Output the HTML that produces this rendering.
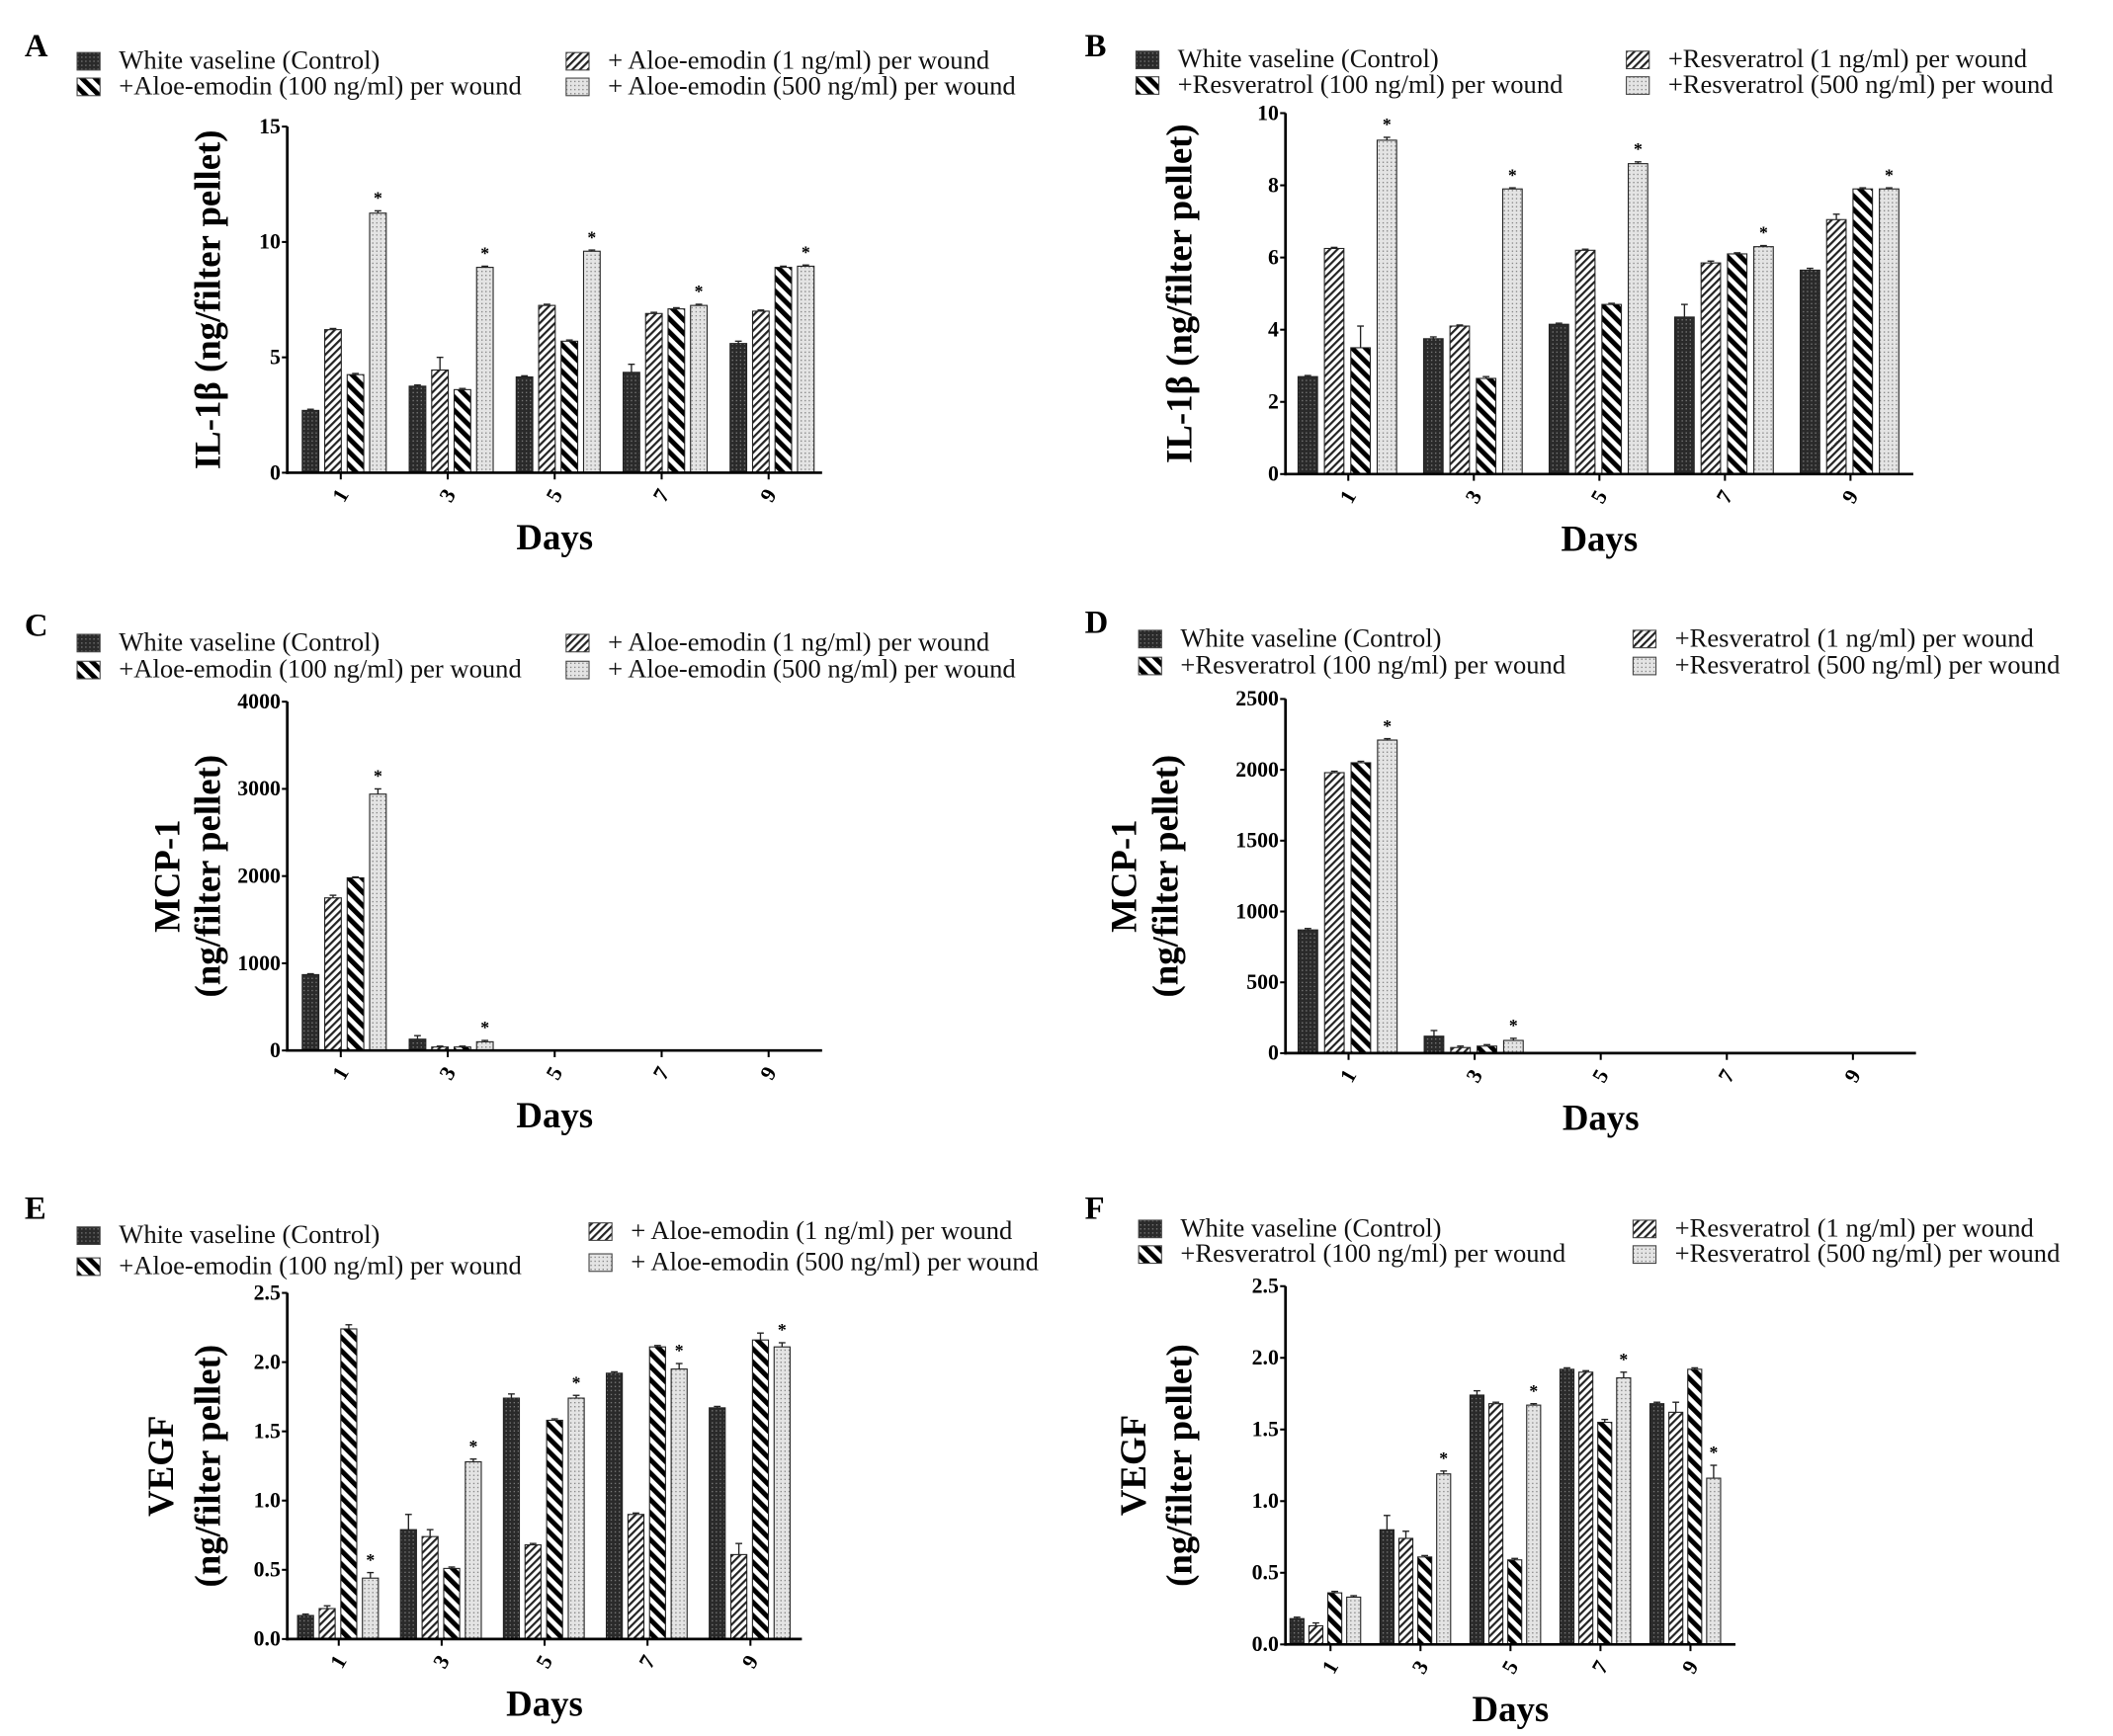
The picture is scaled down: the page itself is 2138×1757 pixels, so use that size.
<!DOCTYPE html>
<html><head><meta charset="utf-8"><style>
html,body{margin:0;padding:0;background:#fff;}
svg{display:block;font-family:"Liberation Serif",serif;}
</style></head><body>
<svg id="fig" width="2138" height="1757" viewBox="0 0 1568 1289" xmlns="http://www.w3.org/2000/svg">
<defs>
<pattern id="pCtrl" width="3" height="3" patternUnits="userSpaceOnUse"><rect width="3" height="3" fill="#2a2a2a"/><rect width="1" height="1" fill="#777"/></pattern>
<pattern id="p1" width="4" height="4" patternUnits="userSpaceOnUse" patternTransform="rotate(45)"><rect width="4" height="4" fill="#fff"/><rect width="1.6" height="4" fill="#222"/></pattern>
<pattern id="p100" width="7" height="7" patternUnits="userSpaceOnUse" patternTransform="rotate(-45)"><rect width="7" height="7" fill="#fff"/><rect width="3.6" height="7" fill="#000"/></pattern>
<pattern id="p500" width="3" height="3" patternUnits="userSpaceOnUse"><rect width="3" height="3" fill="#e4e4e4"/><rect width="1" height="1" fill="#888"/></pattern>
</defs>
</svg>
<script>
const days = ["1","3","5","7","9"];
const seriesNamesAE = ["White vaseline (Control)","+ Aloe-emodin (1 ng/ml) per wound","+Aloe-emodin (100 ng/ml) per wound","+ Aloe-emodin (500 ng/ml) per wound"];
const seriesNamesR = ["White vaseline (Control)","+Resveratrol (1 ng/ml) per wound","+Resveratrol (100 ng/ml) per wound","+Resveratrol (500 ng/ml) per wound"];
// Panel A: IL-1b aloe-emodin
const aCtrl = [2.7,3.75,4.15,4.35,5.6];
const a1 = [6.2,4.45,7.25,6.9,7.0];
const a100 = [4.25,3.6,5.7,7.1,8.9];
const a500 = [11.25,8.9,9.6,7.25,8.95];
const aErr = [[0.05,0.05,0.05,0.35,0.1],[0.05,0.55,0.05,0.05,0.05],[0.05,0.05,0.05,0.05,0.05],[0.1,0.05,0.05,0.05,0.05]];
const aTicks = [0,5,10,15];
const aStars = [[3,0],[3,1],[3,2],[3,3],[3,4]];
// Panel B: IL-1b resveratrol
const bCtrl = [2.7,3.75,4.15,4.35,5.65];
const b1 = [6.25,4.1,6.2,5.85,7.05];
const b100 = [3.5,2.65,4.7,6.1,7.9];
const b500 = [9.25,7.9,8.6,6.3,7.9];
const bErr = [[0.03,0.05,0.03,0.35,0.05],[0.03,0.03,0.03,0.05,0.15],[0.6,0.05,0.03,0.03,0.03],[0.08,0.03,0.05,0.03,0.03]];
const bTicks = [0,2,4,6,8,10];
const bStars = [[3,0],[3,1],[3,2],[3,3],[3,4]];
// Panel C: MCP-1 aloe-emodin
const cCtrl = [870,130,5,5,5];
const c1 = [1750,40,5,5,5];
const c100 = [1980,40,5,5,5];
const c500 = [2940,100,5,5,5];
const cErr = [[10,40,0,0,0],[30,10,0,0,0],[10,10,0,0,0],[60,15,0,0,0]];
const cTicks = [0,1000,2000,3000,4000];
const cStars = [[3,0],[3,1]];
// Panel D: MCP-1 resveratrol
const dCtrl = [870,120,3,3,3];
const d1 = [1980,40,3,3,3];
const d100 = [2050,50,3,3,3];
const d500 = [2210,90,3,3,3];
const dErr = [[10,40,0,0,0],[10,10,0,0,0],[10,10,0,0,0],[10,15,0,0,0]];
const dTicks = [0,500,1000,1500,2000,2500];
const dStars = [[3,0],[3,1]];
// Panel E: VEGF aloe-emodin
const eCtrl = [0.17,0.79,1.74,1.92,1.67];
const e1 = [0.22,0.74,0.68,0.9,0.61];
const e100 = [2.24,0.51,1.58,2.11,2.16];
const e500 = [0.44,1.28,1.74,1.95,2.11];
const eErr = [[0.01,0.11,0.03,0.01,0.01],[0.02,0.05,0.01,0.01,0.08],[0.03,0.01,0.01,0.01,0.05],[0.04,0.02,0.02,0.04,0.03]];
const eTicks = [0,0.5,1,1.5,2,2.5];
const eStars = [[3,0],[3,1],[3,2],[3,3],[3,4]];
// Panel F: VEGF resveratrol
const fCtrl = [0.18,0.8,1.74,1.92,1.68];
const f1 = [0.13,0.74,1.68,1.90,1.62];
const f100 = [0.36,0.61,0.59,1.55,1.92];
const f500 = [0.33,1.19,1.67,1.86,1.16];
const fErr = [[0.01,0.1,0.03,0.01,0.01],[0.02,0.05,0.01,0.01,0.07],[0.01,0.01,0.01,0.02,0.01],[0.01,0.02,0.01,0.04,0.09]];
const fTicks = [0,0.5,1,1.5,2,2.5];
const fStars = [[3,1],[3,2],[3,3],[3,4]];

const NS="http://www.w3.org/2000/svg";
const svg=document.getElementById('fig');
const fills=["url(#pCtrl)","url(#p1)","url(#p100)","url(#p500)"];
function mk(tag,attrs,parent,text){const e=document.createElementNS(NS,tag);for(const k in attrs)e.setAttribute(k,attrs[k]);if(text!==undefined)e.textContent=text;(parent||svg).appendChild(e);return e;}

function panel(cfg){
  const g=mk('g',{});
  
  
  const L=mk('text',{x:cfg.letter[0],y:cfg.letter[1],'font-size':24,'font-weight':'bold'},g,cfg.id.toUpperCase());
  
  
  const lg=mk('g',{},g);
  
  
  const order=[0,2,1,3];
  order.forEach((si,k)=>{
    const col=k<2?0:1,row=k%2;
    const sx=cfg.leg.x[col],sy=cfg.leg.y[col][row];
    const en=mk('g',{},lg);
    
    
    mk('rect',{x:sx,y:sy-12,width:17,height:13,fill:fills[si],stroke:'#444','stroke-width':0.8},en);
    mk('text',{x:sx+31,y:sy,'font-size':19.5,fill:'#111'},en,cfg.names[si]);
  });
  const x0=cfg.ax.x0,x1=cfg.ax.x1,yTop=cfg.ax.yTop,yZero=cfg.ax.yZero;
  const max=cfg.ticks[cfg.ticks.length-1];
  const yS=v=>yZero-(v/max)*(yZero-yTop);
  const W=(x1-x0)/days.length;
  const xBar=(d,s)=>x0+d*W+cfg.off*W+s*0.21*W;
  const bw=0.155*W;
  cfg.series.forEach((arr,si)=>{
    arr.forEach((v,d)=>{
      const r=mk('rect',{x:xBar(d,si),y:yS(v),width:bw,height:yZero-yS(v),fill:fills[si],stroke:'#222','stroke-width':0.8},g);
      
      
      const e=cfg.err[si][d];
      if(e>0){const cx=xBar(d,si)+bw/2;
        mk('line',{x1:cx,x2:cx,y1:yS(v),y2:yS(v+e),stroke:'#222','stroke-width':1},g);
        mk('line',{x1:cx-2.5,x2:cx+2.5,y1:yS(v+e),y2:yS(v+e),stroke:'#222','stroke-width':1},g);}
    });
  });
  cfg.stars.forEach(([si,d])=>{
    const v=cfg.series[si][d]+cfg.err[si][d];
    const s=mk('text',{x:xBar(d,si)+bw/2,y:yS(v)-5,'font-size':13,'text-anchor':'middle','font-weight':'bold'},g,'*');
    
    
  });
  const ya=mk('line',{x1:x0,x2:x0,y1:yTop,y2:yZero+1,stroke:'#000','stroke-width':2},g);
  
  
  const xa=mk('line',{x1:x0-1,x2:x1,y1:yZero,y2:yZero,stroke:'#000','stroke-width':2},g);
  
  
  cfg.ticks.forEach((t,i)=>{
    mk('line',{x1:x0-4,x2:x0,y1:yS(t),y2:yS(t),stroke:'#000','stroke-width':1.5},g);
    const tl=mk('text',{x:x0-5,y:yS(t)+5,'font-size':16,'font-weight':'bold','text-anchor':'end'},g,cfg.tickLabels[i]);
    
    
  });
  days.forEach((dl,d)=>{
    const cx=x0+d*W+W/2;
    mk('line',{x1:cx,x2:cx,y1:yZero,y2:yZero+5,stroke:'#000','stroke-width':1.5},g);
    const tl=mk('text',{x:cx,y:yZero+22,'font-size':16,'font-weight':'bold','text-anchor':'middle',transform:`rotate(-60 ${cx} ${yZero+17})`},g,dl);
    
    
  });
  const xt=mk('text',{x:(x0+x1)/2,y:yZero+57,'font-size':27,'font-weight':'bold','text-anchor':'middle'},g,'Days');
  
  
  const cy=(yTop+yZero)/2;
  cfg.ylab.forEach((t,i)=>{
    const lx=cfg.ylabX[i];
    const yt=mk('text',{x:lx,y:cy,'font-size':27,'font-weight':'bold','text-anchor':'middle',transform:`rotate(-90 ${lx} ${cy})`},g,t);
    
    
  });
}
const fmt1=v=>v.toFixed(1);
panel({id:'a',letter:[18,42],names:seriesNamesAE,leg:{x:[57,420],y:[[51,70],[51,70]]},ax:{x0:213,x1:610,yTop:94,yZero:351},off:0.14,
 series:[aCtrl,a1,a100,a500],err:aErr,ticks:aTicks,tickLabels:aTicks.map(String),stars:aStars,ylab:['IL-1β (ng/filter pellet)'],ylabX:[163]});
panel({id:'b',letter:[805,42],names:seriesNamesR,leg:{x:[843,1207],y:[[50,69],[50,69]]},ax:{x0:954,x1:1420,yTop:84,yZero:352},off:0.1,
 series:[bCtrl,b1,b100,b500],err:bErr,ticks:bTicks,tickLabels:bTicks.map(String),stars:bStars,ylab:['IL-1β (ng/filter pellet)'],ylabX:[884]});
panel({id:'c',letter:[18,472],names:seriesNamesAE,leg:{x:[57,420],y:[[483,503],[483,503]]},ax:{x0:213,x1:610,yTop:521,yZero:780},off:0.14,
 series:[cCtrl,c1,c100,c500],err:cErr,ticks:cTicks,tickLabels:cTicks.map(String),stars:cStars,ylab:['MCP-1','(ng/filter pellet)'],ylabX:[133,163]});
panel({id:'d',letter:[805,470],names:seriesNamesR,leg:{x:[845,1212],y:[[480,500],[480,500]]},ax:{x0:954,x1:1422,yTop:519,yZero:782},off:0.1,
 series:[dCtrl,d1,d100,d500],err:dErr,ticks:dTicks,tickLabels:dTicks.map(String),stars:dStars,ylab:['MCP-1','(ng/filter pellet)'],ylabX:[843,874]});
panel({id:'e',letter:[18,905],names:seriesNamesAE,leg:{x:[57,437],y:[[923,946],[920,943]]},ax:{x0:213,x1:595,yTop:960,yZero:1217},off:0.1,
 series:[eCtrl,e1,e100,e500],err:eErr,ticks:eTicks,tickLabels:eTicks.map(fmt1),stars:eStars,ylab:['VEGF','(ng/filter pellet)'],ylabX:[128,163]});
panel({id:'f',letter:[805,905],names:seriesNamesR,leg:{x:[845,1212],y:[[918,937],[918,937]]},ax:{x0:954,x1:1288,yTop:955,yZero:1221},off:0.05,
 series:[fCtrl,f1,f100,f500],err:fErr,ticks:fTicks,tickLabels:fTicks.map(fmt1),stars:fStars,ylab:['VEGF','(ng/filter pellet)'],ylabX:[850,884]});
</script>
</body></html>
